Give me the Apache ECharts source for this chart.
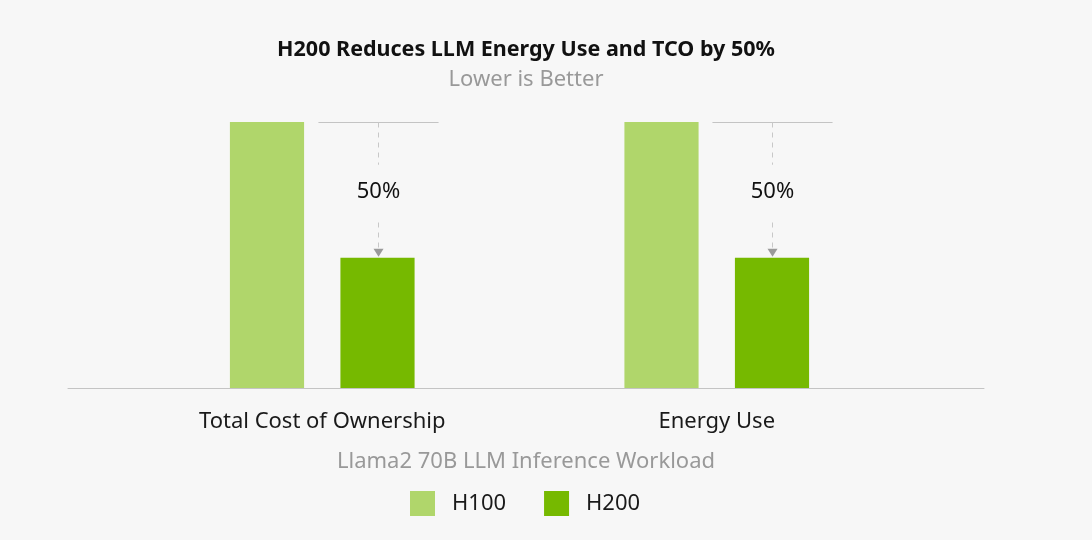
<!DOCTYPE html>
<html>
<head>
<meta charset="utf-8">
<script src="https://cdn.jsdelivr.net/npm/echarts@6/dist/echarts.min.js"></script>
<style>
html,body{margin:0;padding:0;background:#f7f7f7;}
#chart{width:1092px;height:540px;}
</style>
</head>
<body>
<div id="chart"></div>
<script>
const titleText = 'H200 Reduces LLM Energy Use and TCO by 50%';
const subtitleText = 'Lower is Better';
const xAxisName = 'Llama2 70B LLM Inference Workload';
const categories = ['Total Cost of Ownership', 'Energy Use'];
const seriesNames = ['H100', 'H200'];
const h100Values = [1.0, 1.0];
const h200Values = [0.49, 0.49];
const reductionLabels = ['50%', '50%'];

const FONT = '"Noto Sans", sans-serif';
const BAR_W = 0.188;   // bar width as fraction of category band
const BAR_GAP = 0.49;  // gap between bars as fraction of bar width

const annotData = categories.map((c, i) => [i, h100Values[i], h200Values[i], reductionLabels[i]]);

const chart = echarts.init(document.getElementById('chart'), null, {renderer: 'canvas'});
chart.setOption({
  backgroundColor: '#f7f7f7',
  animation: false,
  title: {
    text: titleText,
    subtext: subtitleText,
    left: 526,
    textAlign: 'center',
    top: 38,
    padding: 0,
    itemGap: 6,
    textStyle: {fontFamily: FONT, fontSize: 21.5, fontWeight: 'bold', color: '#111', lineHeight: 24},
    subtextStyle: {fontFamily: FONT, fontSize: 22, color: '#999', lineHeight: 24}
  },
  legend: {
    data: seriesNames,
    bottom: 19,
    left: 405,
    itemWidth: 25,
    itemHeight: 25,
    itemGap: 38,
    icon: 'rect',
    textStyle: {fontFamily: FONT, fontSize: 22, color: '#1a1a1a', padding: [0, 0, 0, 12]}
  },
  grid: [
    {left: 125, right: 178, top: 122, bottom: 152},
    {left: 68, right: 108, top: 122, bottom: 152}
  ],
  xAxis: [
    {
      type: 'category', gridIndex: 0, data: categories,
      axisLine: {show: false}, axisTick: {show: false},
      axisLabel: {fontFamily: FONT, fontSize: 22, color: '#1a1a1a', margin: 23}
    },
    {
      type: 'value', gridIndex: 1, min: 0, max: 1,
      axisLine: {show: true, lineStyle: {color: '#c4c4c4', width: 1}},
      axisTick: {show: false}, axisLabel: {show: false}, splitLine: {show: false},
      name: xAxisName, nameLocation: 'middle', nameGap: 63,
      nameTextStyle: {fontFamily: FONT, fontSize: 22, color: '#999'}
    }
  ],
  yAxis: [
    {type: 'value', gridIndex: 0, min: 0, max: 1, show: false},
    {type: 'value', gridIndex: 1, min: 0, max: 1, show: false}
  ],
  series: [
    {
      name: seriesNames[0], type: 'bar', xAxisIndex: 0, yAxisIndex: 0,
      data: h100Values, barWidth: (BAR_W * 100) + '%', barGap: (BAR_GAP * 100) + '%',
      itemStyle: {color: '#b0d66b'}
    },
    {
      name: seriesNames[1], type: 'bar', xAxisIndex: 0, yAxisIndex: 0,
      data: h200Values, barWidth: (BAR_W * 100) + '%', barGap: (BAR_GAP * 100) + '%',
      itemStyle: {color: '#76b900'}
    },
    {
      name: 'annot', type: 'custom', xAxisIndex: 0, yAxisIndex: 0,
      data: annotData, encode: {x: 0, y: 1}, silent: true, z: 5,
      renderItem: function (params, api) {
        const cat = api.value(0);
        const top = api.coord([cat, api.value(1)]);
        const bot = api.coord([cat, api.value(2)]);
        const band = api.size([1, 0])[0];
        const barW = band * BAR_W;
        const gap = barW * BAR_GAP;
        const cx = Math.round(top[0] + gap / 2 + barW / 2) + 0.5;
        const half = barW * 0.81;
        const yTop = Math.round(top[1]) + 0.5;
        const tip = bot[1] - 1;
        const midY = (top[1] + bot[1]) / 2 + 2;
        return {
          type: 'group',
          children: [
            {type: 'line', shape: {x1: cx - half, y1: yTop, x2: cx + half, y2: yTop},
             style: {stroke: '#c4c4c4', lineWidth: 1}},
            {type: 'line', shape: {x1: cx, y1: yTop, x2: cx, y2: tip - 7},
             style: {stroke: '#c8c8c8', lineWidth: 1, lineDash: [5, 5]}},
            {type: 'polygon', shape: {points: [[cx - 5, tip - 8], [cx + 5, tip - 8], [cx, tip]]},
             style: {fill: '#9a9a9a'}},
            {type: 'text', x: cx, y: midY,
             style: {text: api.value(3), align: 'center', verticalAlign: 'middle',
                     font: '22px ' + FONT, fill: '#111',
                     backgroundColor: '#f7f7f7', padding: [14, 6, 18, 6]}}
          ]
        };
      }
    }
  ]
});
</script>
</body>
</html>
